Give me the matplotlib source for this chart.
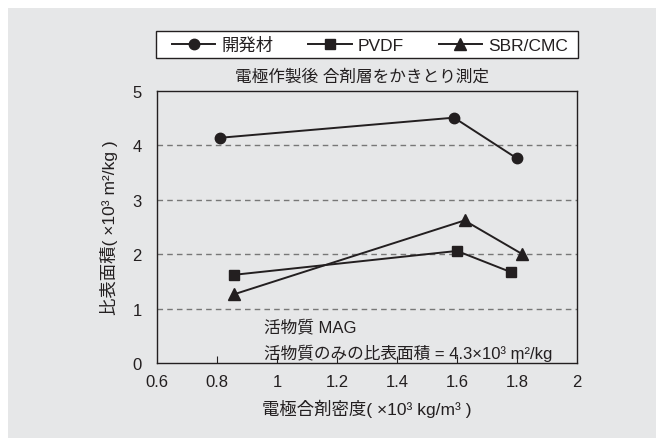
import matplotlib
matplotlib.use("Agg")
import matplotlib.pyplot as plt

plt.rcParams['font.family'] = ['Liberation Sans', 'Noto Sans CJK JP', 'DejaVu Sans']

series_names = ["開発材", "PVDF", "SBR/CMC"]
dev_x = [0.81, 1.59, 1.80]
dev_y = [4.14, 4.51, 3.76]
pvdf_x = [0.855, 1.60, 1.78]
pvdf_y = [1.62, 2.06, 1.67]
sbr_x = [0.855, 1.625, 1.815]
sbr_y = [1.26, 2.62, 2.01]
x_ticks = [0.6, 0.8, 1.0, 1.2, 1.4, 1.6, 1.8, 2.0]
x_tick_labels = ["0.6", "0.8", "1", "1.2", "1.4", "1.6", "1.8", "2"]
y_ticks = [0, 1, 2, 3, 4, 5]

dark = "#231f20"
bg = "#e6e7e8"

fig = plt.figure(figsize=(6.56, 4.39), dpi=100, facecolor="white")
panel = plt.Rectangle((8/656, 0), 1 - 8/656, 1 - 9/439, transform=fig.transFigure,
                      facecolor=bg, edgecolor="none", zorder=-10)
fig.patches.append(panel)
ax = fig.add_axes([157/656, 1 - 364/439, (577 - 157)/656, (364 - 92)/439], zorder=2)
ax.set_facecolor(bg)

l1, = ax.plot(dev_x, dev_y, color=dark, lw=1.4, marker="o", ms=7.5, label=series_names[0])
l2, = ax.plot(pvdf_x, pvdf_y, color=dark, lw=1.4, marker="s", ms=7.5, label=series_names[1])
l3, = ax.plot(sbr_x, sbr_y, color=dark, lw=1.4, marker="^", ms=8.5, label=series_names[2])

ax.set_xlim(0.6, 2.0)
ax.set_ylim(0, 5)
ax.set_xticks(x_ticks)
ax.set_xticklabels(x_tick_labels)
ax.set_yticks(y_ticks)
ax.tick_params(axis="x", direction="in", length=5, color=dark, labelsize=12, labelcolor=dark, pad=8)
ax.tick_params(axis="y", length=0, labelsize=12, labelcolor=dark, pad=11)
for tl in [ax.xaxis.get_major_ticks()[0], ax.xaxis.get_major_ticks()[-1]]:
    tl.tick1line.set_visible(False)
for yv in y_ticks[1:-1]:
    ax.axhline(yv, color="#777777", lw=1.0, ls=(0, (4, 3)), zorder=0)
for s in ax.spines.values():
    s.set_color(dark)
    s.set_linewidth(1.0)

ax.set_xlabel("電極合剤密度( ×10³ kg/m³ )", fontsize=12.5, color=dark, labelpad=7)
ax.set_ylabel("比表面積( ×10³ m²/kg )", fontsize=12.5, color=dark, labelpad=10)

ax.text(0.955, 0.68, "活物質 MAG", fontsize=12, color=dark, va="center")
ax.text(0.955, 0.2, "活物質のみの比表面積 = 4.3×10³ m²/kg", fontsize=12, color=dark, va="center")

fig.text(362/656, 1 - 77/439, "電極作製後 合剤層をかきとり測定", fontsize=12, color=dark,
         ha="center", va="center")

# legend frame spanning the axes width
frame = plt.Rectangle((156/656, 1 - 59/439), (578 - 156)/656, 27/439, transform=fig.transFigure,
                      facecolor="white", edgecolor=dark, lw=1.0, zorder=1)
fig.patches.append(frame)
leg = fig.legend(handles=[l1, l2, l3], loc="center", ncol=3,
                 bbox_to_anchor=(370/656, 1 - 45.5/439),
                 frameon=False, fontsize=12.5, handlelength=2.5, handletextpad=0.35,
                 columnspacing=2.0, borderaxespad=0, borderpad=0)
leg.set_zorder(3)
for t in leg.get_texts():
    t.set_color(dark)

fig.savefig("out.png", dpi=100, facecolor="white")
